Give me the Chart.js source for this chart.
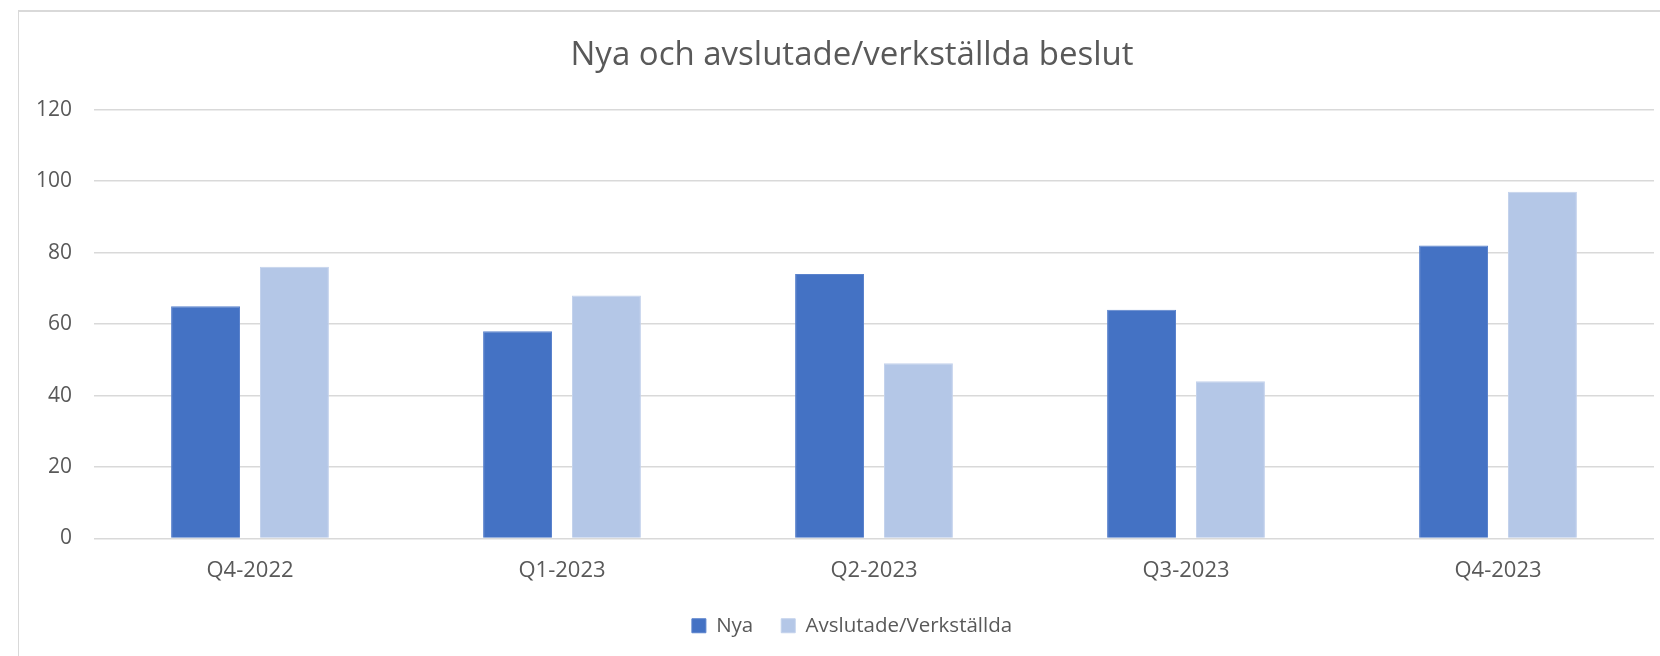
<!DOCTYPE html>
<html>
<head>
<meta charset="utf-8">
<script src="https://cdn.jsdelivr.net/npm/chart.js@4.4.1/dist/chart.umd.min.js"></script>
<style>
  html, body { margin: 0; padding: 0; background: #ffffff; width: 1660px; height: 656px; overflow: hidden; }
  #frame { position: absolute; left: 18px; top: 10px; border-left: 1px solid #d9d9d9; border-top: 2px solid #d9d9d9; width: 1666px; height: 660px; }
  canvas { display: block; }
</style>
</head>
<body>
<div id="frame"><canvas id="c" width="1666" height="634"></canvas></div>
<script>
const titleText = "Nya och avslutade/verkställda beslut";
const categories = ["Q4-2022", "Q1-2023", "Q2-2023", "Q3-2023", "Q4-2023"];
const seriesNames = ["Nya", "Avslutade/Verkställda"];
const nyaValues = [65, 58, 74, 64, 82];
const avslutadeValues = [76, 68, 49, 44, 97];
const yTicks = [0, 20, 40, 60, 80, 100, 120];

const textColor = "#595959";
const fontFamily = "'Open Sans', 'Liberation Sans', sans-serif";

new Chart(document.getElementById("c"), {
  type: "bar",
  data: {
    labels: categories,
    datasets: [
      { label: seriesNames[0], data: nyaValues, backgroundColor: "#4472C4", borderColor: "#5a82cc", borderWidth: 1, borderSkipped: "bottom",
        categoryPercentage: 0.57, barPercentage: 0.775, yAxisID: "y" },
      { label: seriesNames[1], data: avslutadeValues, backgroundColor: "#B4C7E7", borderColor: "#c3d2ec", borderWidth: 1, borderSkipped: "bottom",
        categoryPercentage: 0.57, barPercentage: 0.775, yAxisID: "y" }
    ]
  },
  options: {
    responsive: false,
    devicePixelRatio: 1,
    animation: false,
    layout: { padding: 0 },
    plugins: {
      title: {
        display: true,
        text: titleText,
        color: textColor,
        font: { family: fontFamily, size: 33, weight: "normal" },
        padding: { top: 24, bottom: 34 }
      },
      legend: {
        display: true,
        position: "bottom",
        labels: {
          color: textColor,
          font: { family: fontFamily, size: 20.5 },
          boxWidth: 14,
          boxHeight: 14,
          padding: 28
        }
      },
      tooltip: { enabled: false }
    },
    scales: {
      x: {
        grid: { display: false, drawTicks: false },
        border: { display: false },
        ticks: { color: textColor, font: { family: fontFamily, size: 22 }, padding: 19.5, maxRotation: 0 },
        afterFit: (s) => { s.height = 49; }
      },
      y: {
        position: "left",
        min: 0,
        max: 120,
        afterBuildTicks: (s) => { s.ticks = yTicks.map(v => ({ value: v })); },
        grid: { color: "#d9d9d9", lineWidth: 1.5, drawTicks: false },
        border: { display: false },
        ticks: { color: textColor, font: { family: fontFamily, size: 21 }, padding: 22 },
        afterFit: (s) => { s.width = 75; }
      },
      yRight: {
        position: "right",
        display: true,
        grid: { display: false, drawTicks: false },
        border: { display: false },
        ticks: { display: false },
        afterFit: (s) => { s.width = 31; }
      }
    }
  }
});
</script>
</body>
</html>
